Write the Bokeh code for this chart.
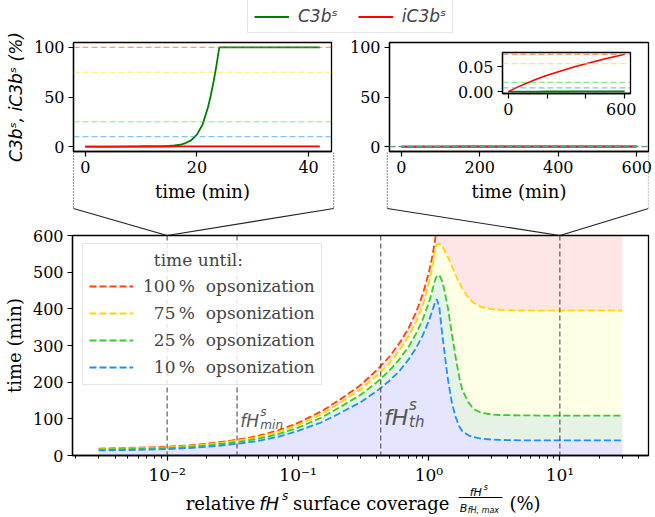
import numpy as np
from bokeh.plotting import figure
from bokeh.models import (Range1d, FixedTicker, CustomJSTickFormatter, PrintfTickFormatter,
                          Legend, LegendItem, Span, Column)
from bokeh.core.properties import value
from bokeh.embed import file_html
from bokeh.resources import INLINE

# ------------------------------------------------------------------ data
# upper-left panel: low fH coverage, time course (min) of surface C3b / iC3b (%)
t_low = [0, 5, 10, 12, 14, 15, 16, 17, 18, 19, 20, 21, 22, 22.5, 23, 23.5, 24, 30, 36, 42]
c3b_low = [0, 0, 0.1, 0.2, 0.4, 0.7, 1.1, 1.8, 3.5, 6.5, 12, 22, 40, 52, 66, 82, 100, 100, 100, 100]
ic3b_low = [0, 0.02, 0.04, 0.05, 0.06, 0.07, 0.08, 0.09, 0.1, 0.11, 0.12, 0.14, 0.16, 0.17,
            0.18, 0.19, 0.2, 0.2, 0.2, 0.2]

# upper-right panel: high fH coverage, time course over 600 min
t_high = [0, 50, 100, 150, 200, 250, 300, 350, 400, 450, 500, 550, 600]
ic3b_high = [0, 0.0095, 0.018, 0.026, 0.033, 0.039, 0.045, 0.051, 0.056, 0.061, 0.066, 0.0705, 0.075]
c3b_high = [0, 0.0001, 0.0002, 0.0002, 0.0003, 0.0003, 0.0003, 0.0004, 0.0004, 0.0004,
            0.0004, 0.0004, 0.0004]

# opsonization levels (%)
levels = [100, 75, 25, 10]
level_labels = ["100\u2009%  opsonization", "\u200775\u2009%  opsonization",
                "\u200725\u2009%  opsonization", "\u200710\u2009%  opsonization"]

# main panel: relative fH surface coverage (%) vs time until opsonization (min)
coverage = [0.003, 0.005, 0.007, 0.01, 0.015, 0.02, 0.03, 0.04, 0.05, 0.07, 0.1, 0.15, 0.2,
            0.3, 0.4, 0.5, 0.6, 0.7, 0.8, 0.9, 1.0, 1.05, 1.1, 1.13, 1.15, 1.2, 1.25, 1.3,
            1.4, 1.5, 1.6, 1.7, 1.8, 2.0, 2.2, 2.5, 3.0, 3.5, 4.0, 5.0, 7.0, 10, 15, 20, 30]
nan = float("nan")
t_100 = [19, 20.5, 22, 24, 28, 32, 40, 47, 54, 68, 89, 120, 148, 192, 233, 270, 308, 348, 392,
         442, 500, 535, 576, 605] + [nan] * 21
t_75 = [18, 19.5, 20.5, 22.5, 26, 30, 37.5, 44, 51, 64, 83, 112, 139, 180, 218, 252, 288, 325,
        365, 410, 470, 505, 548, 568, 575, 578, 573, 562, 540, 515, 492, 472, 455, 430, 416,
        405, 399, 397, 396, 395, 395, 395, 395, 395, 395]
t_25 = [16.5, 17.5, 18.5, 20, 23.5, 27, 34, 40, 46, 58, 76, 103, 128, 165, 200, 232, 264, 297,
        333, 373, 418, 444, 472, 484, 489, 492, 479, 458, 400, 330, 268, 215, 178, 145, 126,
        117, 112, 110.5, 110, 109.5, 109, 109, 109, 109, 109]
t_10 = [14, 15, 16, 17.5, 20.5, 23.5, 29.5, 35, 40, 51, 67, 90, 112, 145, 176, 204, 232, 262,
        294, 329, 368, 390, 412, 422, 426, 405, 345, 295, 205, 142, 105, 80, 66, 55, 50, 46,
        43.5, 42.5, 42, 41.5, 41, 41, 41, 41, 41]

zoom_targets = [0.01, 10]          # coverages shown in the two upper panels
fH_min, fH_th = 0.0342, 0.428      # marked coverages
t_max = 600                         # upper time limit of main panel

# ------------------------------------------------------------------ style / layout
SERIF, SANS = "DejaVu Serif", "DejaVu Sans"
FS = "16px"        # tick labels
FL = "18px"        # axis labels
FLEG = "17px"      # legend texts
line_colors = ["orangered", "gold", "limegreen", "dodgerblue"]
fill_colors = ["red", "yellow", "green", "blue"]

W, H = 654, 516            # page size used
BL, BR = 68, 6             # common left / right borders of every panel (column alignment)
# frames in page pixels: (left, top, right, bottom)
FR_MAIN = (68, 235, 648, 455)
FR_CONN = (68, 152, 648, 235)
FR_TL = (69, 42, 331, 152)
FR_TR = (385, 42, 648, 152)
FR_INSET = (498, 52, 630, 93)
FR_LAB = (68, 456, 648, 516)
FR_LEG = (68, 0, 648, 40)


def make_fig(fr, top_border=0, bottom_border=0, transparent=True, **kw):
    l, t, r, b = fr
    p = figure(width=BL + (r - l) + BR, height=top_border + (b - t) + bottom_border,
               output_backend="svg", toolbar_location=None, title=None,
               min_border_left=BL, min_border_right=BR,
               min_border_top=top_border, min_border_bottom=bottom_border, **kw)
    p.xgrid.grid_line_color = None
    p.ygrid.grid_line_color = None
    p.border_fill_color = None if transparent else "white"
    p.outline_line_color = "black"
    p.outline_line_width = 1.3
    # canvas position on the page
    p.tags = [l - BL, t - top_border]
    return p


def style_axis(ax, size=FS):
    ax.major_label_text_font = SERIF
    ax.major_label_text_font_size = size
    ax.major_label_text_color = "black"
    ax.axis_label_text_font = SERIF
    ax.axis_label_text_font_size = FL
    ax.axis_label_text_font_style = "normal"
    ax.axis_label_text_color = "black"
    ax.axis_line_color = "black"
    ax.axis_line_width = 1.3
    ax.major_tick_line_color = "black"
    ax.major_tick_line_width = 1.2
    ax.major_tick_out = 5
    ax.major_tick_in = 0
    ax.minor_tick_line_color = None
    ax.major_label_standoff = 4
    ax.axis_label_standoff = 5


def padded(lo, hi, frac=0.05):
    d = (hi - lo) * frac
    return lo - d, hi + d


# ------------------------------------------------------------------ main panel
log_lo, log_hi = padded(np.log10(min(coverage)), np.log10(max(coverage)))
x_main = Range1d(10 ** log_lo, 10 ** log_hi)
p_main = make_fig(FR_MAIN, top_border=FR_MAIN[1], bottom_border=H - FR_MAIN[3],
                  transparent=False, x_axis_type="log", x_range=x_main,
                  y_range=Range1d(0, t_max))

cov = np.array(coverage)
curves = [np.array(t_100), np.array(t_75), np.array(t_25), np.array(t_10)]
upper_100 = np.where(np.isnan(curves[0]), t_max, curves[0])
bands = [(curves[1], upper_100), (curves[2], curves[1]), (curves[3], curves[2]),
         (np.zeros_like(cov), curves[3])]
for (lo, hi), fc in zip(bands, fill_colors):
    p_main.varea(x=cov, y1=lo, y2=hi, fill_color=fc, fill_alpha=0.1)

for v in zoom_targets + [fH_min, fH_th]:
    p_main.add_layout(Span(location=v, dimension="height", line_color="#404040",
                           line_alpha=0.85, line_dash="5 3", line_width=1.2))

main_lines = []
for c, col in zip(curves, line_colors):
    main_lines.append(p_main.line(cov, c, line_color=col, line_width=1.8, line_dash="7 3"))

# fH annotations
for xv, yv, big, small_sub, fs_big, fs_small, dx, dy_sup, dy_sub in [
        (fH_min * 1.06, 95, "fH", "min", "17px", "12px", 20, -9, 4),
        (fH_th * 1.06, 104, "fH", "th", "22px", "15px", 25, -12, 5)]:
    kw = dict(text_font=value(SANS), text_font_style="italic", text_color="#555555",
              text_baseline="alphabetic", text_align="left")
    p_main.text(x=[xv], y=[yv], text=[big], text_font_size=fs_big, **kw)
    p_main.text(x=[xv], y=[yv], text=["s"], text_font_size=fs_small, x_offset=dx,
                y_offset=dy_sup, **kw)
    p_main.text(x=[xv], y=[yv], text=[small_sub], text_font_size=fs_small, x_offset=dx,
                y_offset=dy_sub, **kw)

style_axis(p_main.xaxis[0])
style_axis(p_main.yaxis[0])
p_main.yaxis.axis_label = "time (min)"
p_main.yaxis.ticker = FixedTicker(ticks=list(range(0, t_max + 1, 100)))
p_main.xaxis.ticker = FixedTicker(
    ticks=[0.01, 0.1, 1, 10],
    minor_ticks=[k * 10.0 ** e for e in range(-3, 2) for k in range(2, 10)])
p_main.xaxis.minor_tick_line_color = "black"
p_main.xaxis.minor_tick_out = 3
p_main.xaxis.minor_tick_in = 0
p_main.xaxis.major_label_text_font_size = "17px"
p_main.xaxis.formatter = CustomJSTickFormatter(code="""
const e = Math.round(Math.log10(tick));
const sup = {"-": "\u207b", "0": "\u2070", "1": "\u00b9", "2": "\u00b2", "3": "\u00b3"};
return "10" + String(e).split("").map(c => sup[c]).join("");
""")

leg_main = Legend(items=[LegendItem(label=lab, renderers=[r])
                         for lab, r in zip(level_labels, main_lines)],
                  location=(10, 70), title=" " * 12 + "time until:")
leg_main.title_text_font = SERIF
leg_main.title_text_font_size = FLEG
leg_main.title_text_font_style = "normal"
leg_main.label_text_font = SERIF
leg_main.label_text_font_size = FLEG
leg_main.glyph_width = 44
leg_main.glyph_height = 22
leg_main.label_height = 22
leg_main.label_standoff = 10
leg_main.spacing = 5
leg_main.padding = 6
leg_main.margin = 0
leg_main.border_line_color = "#cccccc"
leg_main.background_fill_alpha = 0.85
p_main.add_layout(leg_main)

# ------------------------------------------------------------------ connectors
y_per_px = t_max / (FR_MAIN[3] - FR_MAIN[1])
conn_top = t_max + (FR_CONN[3] - FR_CONN[1]) * y_per_px
kink = t_max + (FR_MAIN[1] - 208) * y_per_px
p_conn = make_fig(FR_CONN, x_axis_type="log", x_range=x_main,
                  y_range=Range1d(t_max, conn_top),
                  x_axis_location=None, y_axis_location=None)
p_conn.outline_line_color = None
p_conn.background_fill_color = None


def px_to_cov(px):
    l, _, r, _ = FR_MAIN
    return 10 ** (log_lo + (px - l) / (r - l) * (log_hi - log_lo))


edges = [px_to_cov(FR_TL[0]), px_to_cov(FR_TL[2]), px_to_cov(FR_TR[0]), px_to_cov(FR_TR[2])]
targets = [zoom_targets[0], zoom_targets[0], zoom_targets[1], zoom_targets[1]]
p_conn.segment(x0=edges, y0=[conn_top] * 4, x1=edges, y1=[kink] * 4,
               line_color="#333333", line_width=1.2, line_dash="1 2")
p_conn.segment(x0=edges, y0=[kink] * 4, x1=targets, y1=[t_max] * 4,
               line_color="#222222", line_width=1.1)

# ------------------------------------------------------------------ upper panels
thr_low = [max(c3b_low) * lv / 100 for lv in levels]
thr_high = [max(ic3b_high) * lv / 100 for lv in levels]

p_tl = make_fig(FR_TL, top_border=FR_TL[1], bottom_border=52,
                x_range=Range1d(*padded(min(t_low), max(t_low))),
                y_range=Range1d(*padded(0, 100)))
p_tl.background_fill_color = "white"
for th, col in zip(thr_low, line_colors):
    p_tl.add_layout(Span(location=th, dimension="width", line_color=col, line_alpha=0.55,
                         line_width=1.2, line_dash="6 3"))
p_tl.line(t_low, c3b_low, line_color="green", line_width=1.8)
p_tl.line(t_low, ic3b_low, line_color="red", line_width=1.8)
style_axis(p_tl.xaxis[0])
style_axis(p_tl.yaxis[0])
p_tl.xaxis.ticker = FixedTicker(ticks=[0, 20, 40])
p_tl.yaxis.ticker = FixedTicker(ticks=[0, 50, 100])
p_tl.xaxis.axis_label = "time (min)"
p_tl.yaxis.axis_label = "C3b\u02e2, iC3b\u02e2 (%)"
p_tl.yaxis.axis_label_text_font = SANS
p_tl.yaxis.axis_label_text_font_style = "italic"
p_tl.yaxis.axis_label_text_font_size = "17px"

p_tr = make_fig(FR_TR, top_border=FR_TR[1], bottom_border=52,
                x_range=Range1d(*padded(min(t_high), max(t_high))),
                y_range=Range1d(*padded(0, 100)))
p_tr.background_fill_color = "white"
for th, col in zip(thr_high, line_colors):
    p_tr.add_layout(Span(location=th, dimension="width", line_color=col, line_alpha=0.55,
                         line_width=1.2, line_dash="6 3"))
p_tr.line(t_high, c3b_high, line_color="green", line_width=1.8)
p_tr.line(t_high, ic3b_high, line_color="red", line_width=1.8)
style_axis(p_tr.xaxis[0])
style_axis(p_tr.yaxis[0])
p_tr.xaxis.ticker = FixedTicker(ticks=[0, 200, 400, 600])
p_tr.yaxis.ticker = FixedTicker(ticks=[0, 50, 100])
p_tr.xaxis.axis_label = "time (min)"

# inset
p_in = make_fig(FR_INSET, top_border=4, bottom_border=30,
                x_range=Range1d(*padded(min(t_high), max(t_high))),
                y_range=Range1d(*padded(0, max(ic3b_high))))
p_in.background_fill_color = "white"
for th, col in zip(thr_high, line_colors):
    p_in.add_layout(Span(location=th, dimension="width", line_color=col, line_alpha=0.55,
                         line_width=1.2, line_dash="6 3"))
p_in.line(t_high, c3b_high, line_color="green", line_width=1.8)
p_in.line(t_high, ic3b_high, line_color="red", line_width=1.5)
style_axis(p_in.xaxis[0])
style_axis(p_in.yaxis[0])
p_in.xaxis.ticker = FixedTicker(ticks=[0, 200, 400, 600])
p_in.xaxis.formatter = CustomJSTickFormatter(args=dict(shown=[0, 600]),
                                             code="return shown.includes(tick) ? String(tick) : '';")
p_in.yaxis.ticker = FixedTicker(ticks=[0, 0.05])
p_in.yaxis.formatter = PrintfTickFormatter(format="%.2f")

# legend of the upper panels: its own transparent strip across the page top. The proxy
# lines repeat the upper-left series with the same styles, but lie outside this strip's
# x range, so that only their legend samples show.
p_leg = make_fig(FR_LEG, x_range=Range1d(1000, 1001), y_range=Range1d(0, 1),
                 x_axis_location=None, y_axis_location=None)
p_leg.outline_line_color = None
p_leg.background_fill_color = None
g_leg = p_leg.line(t_low, c3b_low, line_color="green", line_width=1.8)
r_leg = p_leg.line(t_low, ic3b_low, line_color="red", line_width=1.8)
leg_top = Legend(items=[LegendItem(label="C3b\u02e2", renderers=[g_leg]),
                        LegendItem(label="iC3b\u02e2", renderers=[r_leg])],
                 orientation="horizontal", location=(243 - FR_LEG[0], FR_LEG[3] - 33))
leg_top.label_text_font = SANS
leg_top.label_text_font_style = "italic"
leg_top.label_text_font_size = FLEG
leg_top.glyph_width = 35
leg_top.glyph_height = 19
leg_top.label_height = 19
leg_top.label_standoff = 9
leg_top.spacing = 20
leg_top.padding = 6
leg_top.margin = 0
leg_top.border_line_color = "#cccccc"
p_leg.add_layout(leg_top)

# ------------------------------------------------------------------ x label of main panel
p_lab = make_fig(FR_LAB, x_range=Range1d(FR_LAB[0], FR_LAB[2]),
                 y_range=Range1d(FR_LAB[3], FR_LAB[1]),
                 x_axis_location=None, y_axis_location=None)
p_lab.outline_line_color = None
p_lab.background_fill_color = None
serif_kw = dict(text_font=value(SERIF), text_color="black", text_baseline="alphabetic",
                text_align="left", text_font_size=FL)
sans_kw = dict(text_font=value(SANS), text_font_style="italic", text_color="black",
               text_baseline="alphabetic", text_align="left")
p_lab.text(x=[182, 290, 508], y=[503, 503, 503],
           text=["relative", "surface coverage", "(%)"], **serif_kw)
p_lab.text(x=[256], y=[503], text=["fH"], text_font_size=FL, **sans_kw)
p_lab.text(x=[279], y=[495], text=["s"], text_font_size="12px", **sans_kw)
p_lab.text(x=[468], y=[492], text=["fH"], text_font_size="11px", **sans_kw)
p_lab.text(x=[482], y=[487], text=["s"], text_font_size="8px", **sans_kw)
p_lab.segment(x0=[457], y0=[497], x1=[501], y1=[497], line_color="black", line_width=1)
p_lab.text(x=[458], y=[508], text=["B"], text_font_size="11px", **sans_kw)
p_lab.text(x=[466], y=[510], text=["fH, max"], text_font_size="8px", **sans_kw)

# ------------------------------------------------------------------ stack all panels
# the main panel fills the page; every other panel is pulled onto it with margins that
# cancel its own height, so that it neither moves the others nor enlarges the page
stack = [p_main, p_conn, p_leg, p_tl, p_tr, p_in, p_lab]
for p in stack[1:]:
    x0, y0 = p.tags
    p.margin = (y0 - H, 0, H - y0 - p.height, x0)
    p.tags = []
p_main.tags = []
layout = Column(children=stack, spacing=0)

with open("out.html", "w") as f:
    f.write(file_html(layout, INLINE))
